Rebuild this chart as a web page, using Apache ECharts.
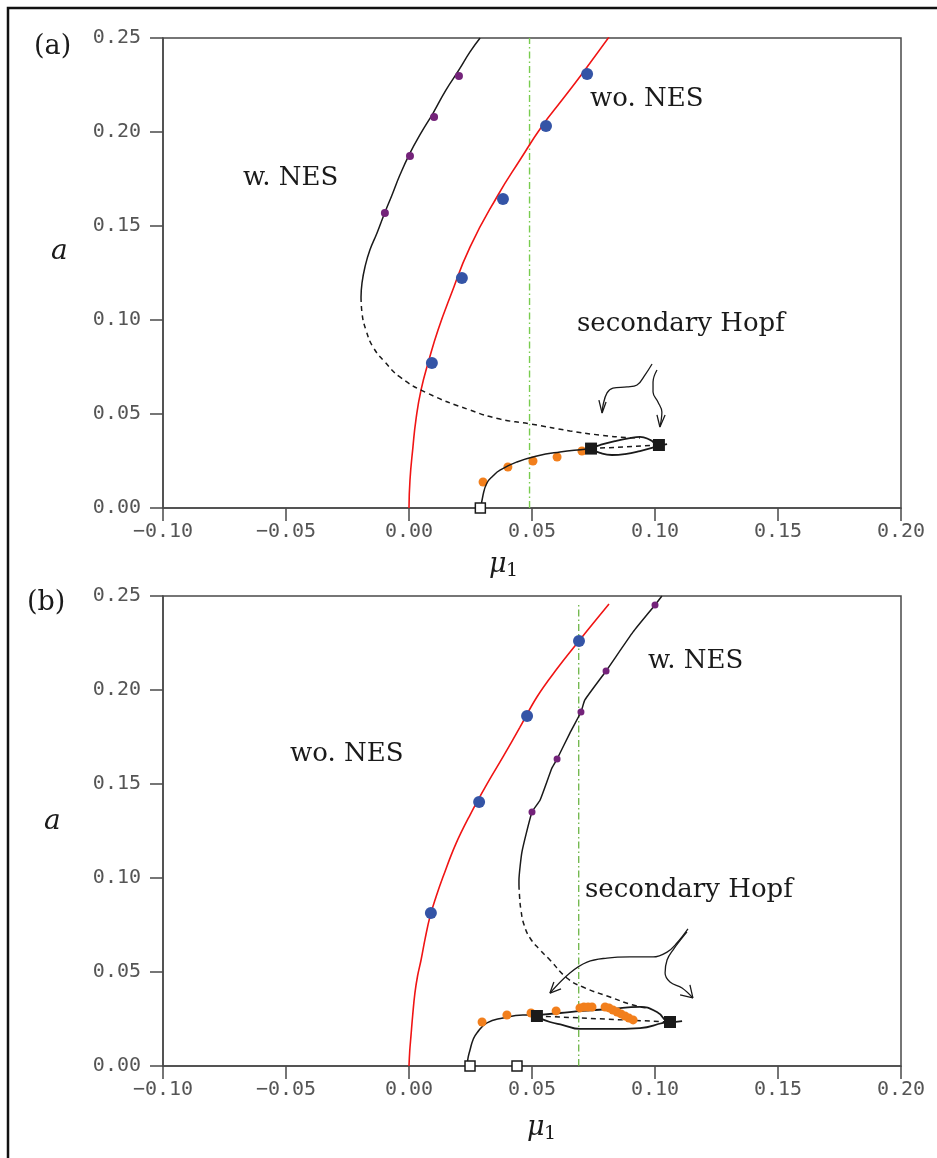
<!DOCTYPE html>
<html>
<head>
<meta charset="utf-8">
<script src="https://cdn.jsdelivr.net/npm/echarts@6/dist/echarts.min.js"></script>
<style>
  html, body { margin: 0; padding: 0; background: #fff; }
  #chart { width: 937px; height: 1158px; }
</style>
</head>
<body>
<div id="chart"></div>
<script>
// axis ranges (mu_1 horizontal, a vertical)
const xRange = [-0.1, 0.2];
const yRange = [0, 0.25];

// ---- panel (a) ----
const aRedCurve = [[0, 0], [0.0004, 0.0149], [0.0016, 0.0324], [0.0028, 0.0468], [0.0049, 0.0628], [0.0081, 0.0787], [0.0118, 0.0947], [0.0167, 0.1122], [0.0248, 0.1388], [0.0362, 0.1665], [0.0451, 0.1851], [0.0541, 0.2032], [0.0622, 0.2170], [0.0703, 0.2309], [0.0813, 0.2505]];
const aBlueDots = [[0.0093, 0.0771], [0.0215, 0.1223], [0.0382, 0.1644], [0.0557, 0.2032], [0.0724, 0.2309]];
const aBlackSolid = [[0.0289, 0.25], [0.0248, 0.2426], [0.0203, 0.2330], [0.0150, 0.2223], [0.0098, 0.2101], [0.0049, 0.1995], [0.0004, 0.1888], [-0.0037, 0.1771], [-0.0069, 0.1665], [-0.0102, 0.1559], [-0.0130, 0.1463], [-0.0159, 0.1372], [-0.0179, 0.1282], [-0.0191, 0.1197], [-0.0195, 0.1122]];
const aPurpleDots = [[0.0203, 0.2298], [0.0102, 0.2080], [0.0004, 0.1872], [-0.0098, 0.1569]];
const aUnstable = [[-0.0195, 0.1122], [-0.0191, 0.1037], [-0.0175, 0.0947], [-0.0146, 0.0856], [-0.0098, 0.0777], [-0.0037, 0.0697], [0.0073, 0.0612], [0.0248, 0.0521], [0.0370, 0.0473], [0.0496, 0.0447], [0.0654, 0.0410], [0.0776, 0.0388], [0.0886, 0.0375], [0.0939, 0.0373]];
const aLowBranch = [[0.0293, 0], [0.0301, 0.0069], [0.0317, 0.0133], [0.0341, 0.0170], [0.0370, 0.0202], [0.0439, 0.0245], [0.0520, 0.0277], [0.0614, 0.0298], [0.0724, 0.0314], [0.0740, 0.0319]];
const aOrangeDots = [[0.0301, 0.0138], [0.0402, 0.0218], [0.0504, 0.0250], [0.0602, 0.0271], [0.0703, 0.0303]];
const aLoopUpper = [[0.0740, 0.0319], [0.0776, 0.0335], [0.0837, 0.0356], [0.0898, 0.0372], [0.0939, 0.0378], [0.0980, 0.0362], [0.1016, 0.0335], [0.1049, 0.0340]];
const aLoopLower = [[0.0740, 0.0314], [0.0776, 0.0293], [0.0825, 0.0282], [0.0878, 0.0287], [0.0939, 0.0303], [0.1016, 0.0330]];
const aLoopMid = [[0.0740, 0.0316], [0.1016, 0.0335]];
const aHopfPoints = [[0.0740, 0.0316], [0.1016, 0.0335]];
const aFoldPoints = [[0.0290, 0]];
const aGuide = [[0.049, 0], [0.049, 0.25]];
const aArrow1 = [[0.0988, 0.0766], [0.0959, 0.0707], [0.0927, 0.0654], [0.0886, 0.0644], [0.0829, 0.0638], [0.0805, 0.0612], [0.0789, 0.0548], [0.0785, 0.0505]];
const aArrow1Head = [[0.0772, 0.0574], [0.0785, 0.0505], [0.0801, 0.0564]];
const aArrow2 = [[0.1008, 0.0734], [0.0992, 0.0670], [0.0992, 0.0617], [0.1012, 0.0564], [0.1028, 0.0511], [0.1020, 0.0431]];
const aArrow2Head = [[0.1008, 0.0495], [0.1020, 0.0431], [0.1041, 0.0495]];

// ---- panel (b) ----
const bRedCurve = [[0, 0], [0.0003, 0.0080], [0.0008, 0.0160], [0.0015, 0.0270], [0.0024, 0.0388], [0.0035, 0.0480], [0.0049, 0.0564], [0.0066, 0.0680], [0.0085, 0.0793], [0.0110, 0.0900], [0.0138, 0.1005], [0.0190, 0.1180], [0.0248, 0.1335], [0.0315, 0.1495], [0.0382, 0.1644], [0.0450, 0.1800], [0.0520, 0.1963], [0.0600, 0.2110], [0.0691, 0.2261], [0.0813, 0.2457]];
const bBlueDots = [[0.0089, 0.0814], [0.0285, 0.1404], [0.0480, 0.1862], [0.0691, 0.2261]];
const bBlackSolid = [[0.1028, 0.25], [0.1000, 0.2452], [0.0911, 0.2309], [0.0801, 0.2101], [0.0715, 0.1947], [0.0699, 0.1883], [0.0654, 0.1771], [0.0602, 0.1633], [0.0581, 0.1585], [0.0533, 0.1415], [0.0500, 0.1351], [0.0459, 0.1138], [0.0447, 0.0989], [0.0447, 0.0963]];
const bPurpleDots = [[0.1000, 0.2452], [0.0801, 0.2101], [0.0699, 0.1883], [0.0602, 0.1633], [0.0500, 0.1351]];
const bUnstable = [[0.0447, 0.0963], [0.0449, 0.0910], [0.0455, 0.0830], [0.0468, 0.0750], [0.0492, 0.0681], [0.0533, 0.0617], [0.0573, 0.0564], [0.0642, 0.0468], [0.0707, 0.0420], [0.0817, 0.0367], [0.0911, 0.0324], [0.0967, 0.0309]];
const bLowBranch = [[0.0236, 0], [0.0240, 0.0043], [0.0248, 0.0085], [0.0260, 0.0138], [0.0276, 0.0176], [0.0317, 0.0229], [0.0382, 0.0255], [0.0463, 0.0271], [0.0520, 0.0271]];
const bOrangeDots = [[0.0297, 0.0234], [0.0398, 0.0271], [0.0496, 0.0282], [0.0598, 0.0293], [0.0695, 0.0309], [0.0711, 0.0314], [0.0728, 0.0314], [0.0744, 0.0314], [0.0797, 0.0314], [0.0813, 0.0309], [0.0829, 0.0298], [0.0846, 0.0287], [0.0862, 0.0277], [0.0878, 0.0266], [0.0894, 0.0255], [0.0911, 0.0245]];
const bLoopUpper = [[0.0520, 0.0271], [0.0614, 0.0282], [0.0707, 0.0293], [0.0817, 0.0303], [0.0939, 0.0314], [0.1008, 0.0287], [0.1061, 0.0234], [0.1110, 0.0239]];
const bLoopLower = [[0.0520, 0.0261], [0.0573, 0.0234], [0.0626, 0.0218], [0.0695, 0.0197], [0.0817, 0.0197], [0.0939, 0.0202], [0.1033, 0.0229], [0.1061, 0.0234]];
const bLoopMid = [[0.0520, 0.0266], [0.1061, 0.0234]];
const bHopfPoints = [[0.0520, 0.0266], [0.1061, 0.0234]];
const bFoldPoints = [[0.0248, 0], [0.0439, 0]];
const bGuide = [[0.069, 0], [0.069, 0.2468]];
const bArrow1 = [[0.1134, 0.0729], [0.1089, 0.0654], [0.1049, 0.0606], [0.0992, 0.0580], [0.0898, 0.0580], [0.0805, 0.0574], [0.0724, 0.0553], [0.0654, 0.0495], [0.0573, 0.0388]];
const bArrow1Head = [[0.0618, 0.0410], [0.0573, 0.0388], [0.0589, 0.0447]];
const bArrow2 = [[0.1130, 0.0713], [0.1073, 0.0617], [0.1049, 0.0564], [0.1041, 0.0495], [0.1061, 0.0447], [0.1110, 0.0415], [0.1154, 0.0362]];
const bArrow2Head = [[0.1142, 0.0431], [0.1154, 0.0362], [0.1102, 0.0378]];

const chart = echarts.init(document.getElementById('chart'), null, { renderer: 'canvas' });

const axisColor = '#4a4a4a';
const tickFont = 'DejaVu Sans Mono';
const serif = 'DejaVu Serif';

function fmt(v) {
  const r = Math.round(v * 100) / 100;
  return (r < 0 ? '\u2212' : '') + Math.abs(r).toFixed(2);
}

function xAxisFor(gi) {
  return {
    type: 'value', gridIndex: gi, min: xRange[0], max: xRange[1], interval: 0.05,
    axisLine: { show: true, onZero: false, lineStyle: { color: axisColor, width: 1.5 } },
    axisTick: { show: true, inside: false, length: 13, lineStyle: { color: axisColor, width: 1.5 } },
    axisLabel: { formatter: fmt, fontFamily: tickFont, fontSize: 20, color: '#555', margin: 14 },
    splitLine: { show: false }
  };
}
function yAxisFor(gi) {
  return {
    type: 'value', gridIndex: gi, min: yRange[0], max: yRange[1], interval: 0.05,
    axisLine: { show: true, onZero: false, lineStyle: { color: axisColor, width: 1.5 } },
    axisTick: { show: true, inside: false, length: 13, lineStyle: { color: axisColor, width: 1.5 } },
    axisLabel: { formatter: fmt, fontFamily: tickFont, fontSize: 20, color: '#555', margin: 22 },
    splitLine: { show: false }
  };
}

function curve(gi, data, color, opts) {
  opts = opts || {};
  return {
    type: 'line', xAxisIndex: gi, yAxisIndex: gi, data: data,
    symbol: 'none', smooth: opts.smooth === undefined ? 0.5 : opts.smooth, silent: true,
    z: opts.z || 2,
    lineStyle: { color: color, width: opts.width || 1.5, type: opts.type || 'solid' }
  };
}
function dots(gi, data, color, size, z) {
  return {
    type: 'scatter', xAxisIndex: gi, yAxisIndex: gi, data: data,
    symbol: 'circle', symbolSize: size, silent: true, z: z || 3,
    itemStyle: { color: color, opacity: 1 }
  };
}
function squares(gi, data, filled, size) {
  return {
    type: 'scatter', xAxisIndex: gi, yAxisIndex: gi, data: data,
    symbol: 'rect', symbolSize: size, silent: true, z: 5,
    itemStyle: filled
      ? { color: '#1a1a1a', opacity: 1 }
      : { color: '#fff', borderColor: '#1a1a1a', borderWidth: 1.5, opacity: 1 }
  };
}

const red = '#f01414';
const blue = '#3454a6';
const purple = '#74237a';
const orange = '#f27f1c';
const black = '#1a1a1a';
const dashed = [5, 4];
const dashDot = [7, 3, 1.5, 3];

const series = [
  // panel (a)
  curve(0, aGuide, '#78cc4e', { type: dashDot, width: 1.4, smooth: false, z: 1 }),
  curve(0, aRedCurve, red, { width: 1.6 }),
  curve(0, aBlackSolid, black),
  curve(0, aUnstable, black, { type: dashed }),
  curve(0, aLowBranch, black),
  curve(0, aLoopUpper, black, { width: 1.8 }),
  curve(0, aLoopLower, black, { width: 1.8 }),
  curve(0, aLoopMid, black, { type: dashed, smooth: false }),
  curve(0, aArrow1, black, { width: 1.3, smooth: 0.4 }),
  curve(0, aArrow1Head, black, { width: 1.3, smooth: false }),
  curve(0, aArrow2, black, { width: 1.3, smooth: 0.4 }),
  curve(0, aArrow2Head, black, { width: 1.3, smooth: false }),
  dots(0, aBlueDots, blue, 12),
  dots(0, aPurpleDots, purple, 8),
  dots(0, aOrangeDots, orange, 9, 1),
  squares(0, aHopfPoints, true, 12),
  squares(0, aFoldPoints, false, 10),
  // panel (b)
  curve(1, bGuide, '#5fae36', { type: dashDot, width: 1.2, smooth: false, z: 1 }),
  curve(1, bRedCurve, red, { width: 1.6, smooth: 0.4 }),
  curve(1, bBlackSolid, black, { smooth: 0.15 }),
  curve(1, bUnstable, black, { type: dashed }),
  curve(1, bLowBranch, black),
  curve(1, bLoopUpper, black, { width: 1.8 }),
  curve(1, bLoopLower, black, { width: 1.8 }),
  curve(1, bLoopMid, black, { type: dashed, smooth: false }),
  curve(1, bArrow1, black, { width: 1.3, smooth: 0.4 }),
  curve(1, bArrow1Head, black, { width: 1.3, smooth: false }),
  curve(1, bArrow2, black, { width: 1.3, smooth: 0.4 }),
  curve(1, bArrow2Head, black, { width: 1.3, smooth: false }),
  dots(1, bBlueDots, blue, 12),
  dots(1, bPurpleDots, purple, 7),
  dots(1, bOrangeDots, orange, 9, 4),
  squares(1, bHopfPoints, true, 12),
  squares(1, bFoldPoints, false, 10)
];

function label(text, x, y, size) {
  return {
    type: 'text', x: x, y: y, silent: true, z: 10,
    style: { text: text, font: size + 'px "' + serif + '"', fill: '#1a1a1a', textAlign: 'left', textVerticalAlign: 'middle' }
  };
}
function italic(text, x, y, size) {
  return {
    type: 'text', x: x, y: y, silent: true, z: 10,
    style: { text: text, font: 'italic ' + size + 'px "' + serif + '"', fill: '#1a1a1a', textAlign: 'left', textVerticalAlign: 'middle' }
  };
}

const option = {
  animation: false,
  backgroundColor: '#fff',
  grid: [
    { left: 163, top: 38, width: 738, height: 470, show: true, borderColor: axisColor, borderWidth: 1.5, backgroundColor: 'transparent' },
    { left: 163, top: 596, width: 738, height: 470, show: true, borderColor: axisColor, borderWidth: 1.5, backgroundColor: 'transparent' }
  ],
  xAxis: [xAxisFor(0), xAxisFor(1)],
  yAxis: [yAxisFor(0), yAxisFor(1)],
  series: series,
  graphic: [
    { type: 'rect', silent: true, shape: { x: 8, y: 8, width: 940, height: 1170 }, style: { fill: 'none', stroke: '#111', lineWidth: 2.5 } },
    label('(a)', 34, 47, 27),
    label('(b)', 27, 603, 27),
    italic('a', 51, 252, 28),
    italic('a', 44, 822, 28),
    italic('\u03bc', 489, 565, 27),
    label('1', 506, 571, 19),
    italic('\u03bc', 527, 1128, 27),
    label('1', 544, 1134, 19),
    label('w. NES', 243, 178, 26),
    label('wo. NES', 590, 99, 26),
    label('secondary Hopf', 577, 324, 26),
    label('wo. NES', 290, 754, 26),
    label('w. NES', 648, 661, 26),
    label('secondary Hopf', 585, 890, 26)
  ]
};

chart.setOption(option);
window.addEventListener('resize', () => chart.resize());
</script>
</body>
</html>
